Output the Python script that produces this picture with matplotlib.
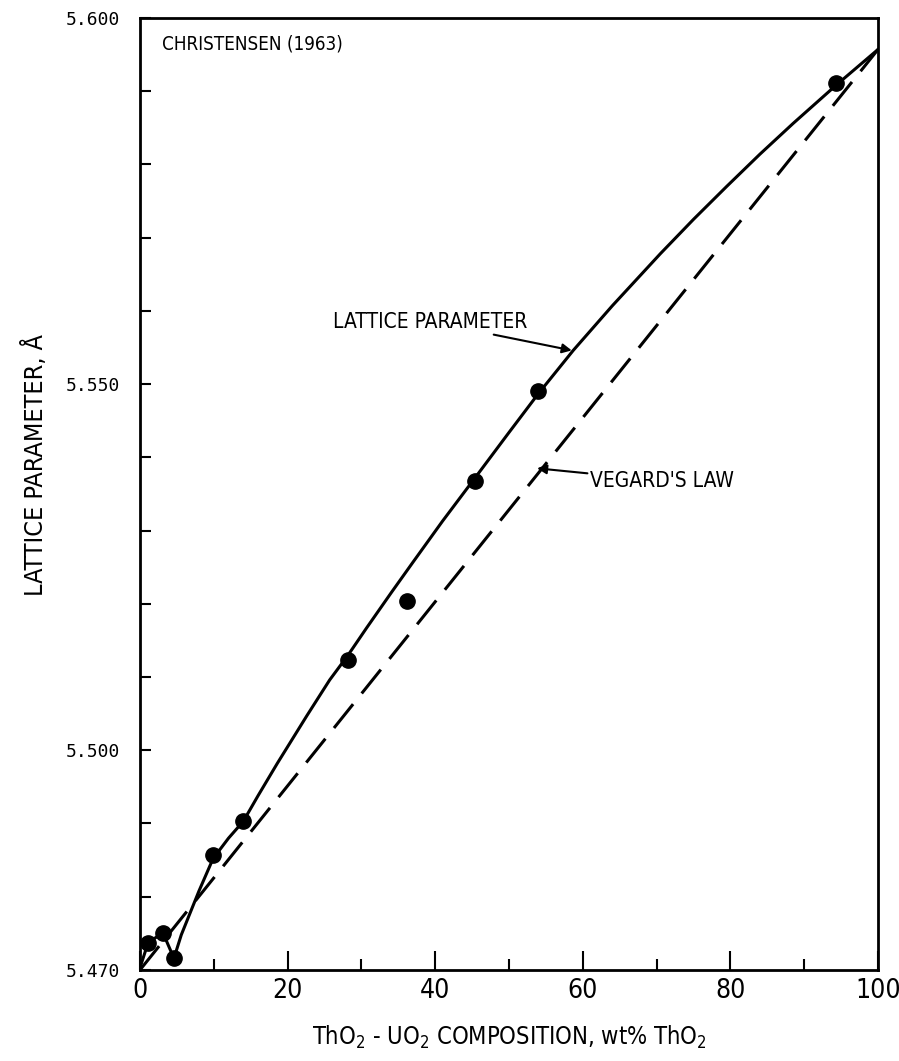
import numpy as np
import matplotlib
matplotlib.use('Agg')
import matplotlib.pyplot as plt
from matplotlib.ticker import MultipleLocator

plt.rcParams['font.family'] = ['DejaVu Sans']
plt.rcParams['font.stretch'] = 'condensed'

# measured points (wt% ThO2, lattice parameter in angstrom)
comp_pts = [1.1, 3.1, 4.6, 9.9, 14.0, 28.2, 36.2, 45.4, 53.9, 94.3]
latt_pts = [5.4737, 5.4751, 5.4716, 5.4857, 5.4903, 5.5123, 5.5204, 5.5368, 5.5491, 5.5911]

# drawn lattice parameter curve
curve_x = [0, 1.1, 3.1, 4.6, 5.6, 6.8, 8.0, 9.9, 12.0, 14.0, 16.0, 18.6, 22.6,
           25.7, 28.2, 30.7, 34.1, 37.0, 41.0, 45.4, 50.0, 53.9, 58.7, 64.0,
           70.5, 75.0, 79.5, 84.0, 88.5, 94.3, 100]
curve_y = [5.4703, 5.4737, 5.4751, 5.4716, 5.4748, 5.4778, 5.4808, 5.4852, 5.4880,
           5.4903, 5.4938, 5.4982, 5.5047, 5.5096, 5.5130, 5.5167, 5.5216, 5.5257,
           5.5313, 5.5372, 5.5434, 5.5486, 5.5546, 5.5607, 5.5678, 5.5725,
           5.5770, 5.5814, 5.5856, 5.5908, 5.5957]

# Vegard's law end points
vegard_x = [0, 100]
vegard_y = [5.4700, 5.5957]

fig = plt.figure(figsize=(8.99, 10.61), dpi=100)
ax = fig.add_axes([0.1557, 0.0858, 0.821, 0.8973])

ax.plot(curve_x, curve_y, color='black', lw=2.2, solid_joinstyle='round')
ax.plot(vegard_x, vegard_y, color='black', lw=2.2, dashes=(10, 4.5))
ax.plot(comp_pts, latt_pts, 'o', color='black', ms=11)

ax.set_xlim(0, 100)
ax.set_ylim(5.470, 5.600)

ax.xaxis.set_minor_locator(MultipleLocator(10))
ax.yaxis.set_minor_locator(MultipleLocator(0.01))
ax.tick_params(which='both', direction='in', width=1.5, color='black')
ax.tick_params(which='major', length=14)
ax.tick_params(which='minor', length=8)
ax.tick_params(axis='y', which='major', length=8)

ax.set_xticks(np.arange(0, 101, 20))
ax.set_xticklabels([str(v) for v in range(0, 101, 20)], fontsize=19)
ax.set_yticks([5.470, 5.500, 5.550, 5.600])
ax.set_yticklabels(['5.470', '5.500', '5.550', '5.600'], fontsize=13,
                   family=['DejaVu Sans Mono'], stretch='normal')
ax.tick_params(axis='x', pad=6)
ax.tick_params(axis='y', pad=14)

for s in ax.spines.values():
    s.set_linewidth(2)

ax.set_xlabel('ThO$_2$ - UO$_2$ COMPOSITION, wt% ThO$_2$', fontsize=17, labelpad=14)
ax.set_ylabel('LATTICE PARAMETER, Å', fontsize=18)
ax.yaxis.set_label_coords(-0.125, 0.53)

ax.text(3, 5.5965, 'CHRISTENSEN (1963)', fontsize=13.5, va='center', ha='left')

ax.annotate('LATTICE PARAMETER', xy=(58.5, 5.5546), xytext=(26.2, 5.5585),
            fontsize=15, va='center', ha='left',
            arrowprops=dict(arrowstyle='-|>', color='black', lw=1.5,
                            shrinkA=0, shrinkB=0, mutation_scale=14))
ax.annotate("VEGARD'S LAW", xy=(53.8, 5.5385), xytext=(61.0, 5.5368),
            fontsize=15, va='center', ha='left',
            arrowprops=dict(arrowstyle='-|>', color='black', lw=1.5,
                            shrinkA=0, shrinkB=0, mutation_scale=14))

fig.savefig('out.png', dpi=100)
